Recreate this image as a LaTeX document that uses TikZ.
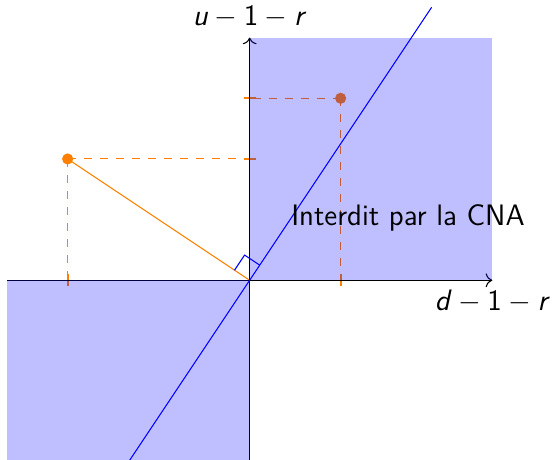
\documentclass[tikz,border=0pt]{standalone}
\usepackage{tikz}
\usetikzlibrary{arrows.meta,calc}
\renewcommand{\familydefault}{\sfdefault}

\begin{document}
\begin{tikzpicture}[
  x=0.8cm, y=0.8cm,
  font=\sffamily\fontsize{11.1}{13.3}\selectfont,
  axis/.style={->},
  proj/.style={dashed, orange},
  tickmark/.style={orange, thick},
  pt/.style={circle, fill=orange, inner sep=0pt, minimum size=4.2pt},
  zone/.style={fill=blue, fill opacity=0.25}
]
\useasboundingbox (-4.115,-2.95) rectangle (4.984,4.62);
\clip (-4.115,-2.95) rectangle (4.984,4.62);

\coordinate (O) at (0,0);
\node[pt] (P) at (-3,2) {};
\node[pt] (Q) at (1.5,3) {};
\coordinate (Px) at (-3,0);
\coordinate (Py) at (0,2);
\coordinate (Qx) at (1.5,0);
\coordinate (Qy) at (0,3);

% projections
\draw[proj] (P.center) -- (Px);
\draw[proj] (P.center) -- (Py);
\draw[proj] (Q.center) -- (Qx);
\draw[proj] (Q.center) -- (Qy);
\foreach \c in {Px,Qx} \draw[tickmark] ($(\c)+(0,-0.1)$) -- ($(\c)+(0,0.1)$);
\foreach \c in {Py,Qy} \draw[tickmark] ($(\c)+(-0.1,0)$) -- ($(\c)+(0.1,0)$);
\draw[orange] (P.center) -- (O);

% axes
\coordinate (xmin) at (-4,0);
\coordinate (xmax) at (4,0);
\coordinate (ymin) at (0,-3);
\coordinate (ymax) at (0,4);
\draw[axis] (xmin) -- (xmax) node[below] (xlab) {\textit{d}${}-{}$1${}-{}$\textit{r}};
\draw[axis] (ymin) -- (ymax) node[above] (ylab) {\textit{u}${}-{}$1${}-{}$\textit{r}};

% zones interdites
\fill[zone] (O) rectangle (4,4);
\fill[zone] (O) rectangle (-4,-3);

% droite et angle droit
\coordinate (L1) at (-2,-3);
\coordinate (L2) at (3,4.5);
\draw[blue] (L1) -- (L2);
\coordinate (ra) at (-0.25,0.166);
\coordinate (rb) at (-0.083,0.416);
\coordinate (rc) at (0.166,0.25);
\draw[blue] (ra) -- (rb) -- (rc);

\node (cna) at (2.61,1.02) {Interdit par la CNA};
\end{tikzpicture}
\end{document}
